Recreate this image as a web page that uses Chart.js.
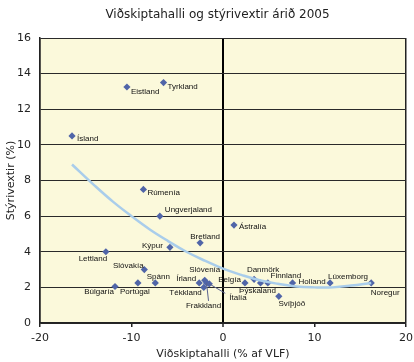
<!DOCTYPE html>
<html>
<head>
<meta charset="utf-8">
<script src="https://cdn.jsdelivr.net/npm/chart.js@4"></script>
<style>
  html, body { margin: 0; padding: 0; background: #fff; }
  #wrap { width: 414px; height: 362px; }
</style>
</head>
<body>
<div id="wrap"><canvas id="chart" width="414" height="362"></canvas></div>
<script>
// Values

const countries = ['Ísland', 'Eistland', 'Tyrkland', 'Rúmenía', 'Ungverjaland', 'Bretland', 'Kýpur', 'Lettland',
    'Slóvakía', 'Búlgaría', 'Portúgal', 'Spánn', 'Írland', 'Slóvenía', 'Tékkland', 'Frakkland', 'Ítalía',
    'Ástralía', 'Belgía', 'Danmörk', 'Þýskaland', 'Finnland', 'Holland', 'Svíþjóð', 'Lúxemborg', 'Noregur'];
const currentAccount = [-16.5, -10.5, -6.5, -8.7, -6.9, -2.5, -5.8, -12.8,
    -8.6, -11.8, -9.3, -7.4, -2.6, -2.0, -2.1, -1.8, -1.5,
    1.2, 2.4, 3.4, 4.1, 4.9, 7.6, 6.1, 11.7, 16.2];
const policyRate = [10.5, 13.25, 13.5, 7.5, 6.0, 4.5, 4.25, 4.0,
    3.0, 2.05, 2.25, 2.25, 2.25, 2.4, 2.0, 2.25, 2.2,
    5.5, 2.25, 2.45, 2.25, 2.25, 2.25, 1.5, 2.25, 2.25];

// trend curve, read at points along the line
const trendX = [-16.5, -14, -12, -10, -8, -6, -4, -2, 0, 2, 4, 6, 8, 10, 12, 14, 16.2];
const trendY = [8.9, 7.7, 6.8, 6.0, 5.25, 4.6, 4.0, 3.5, 3.05, 2.7, 2.4, 2.2, 2.05, 2.0, 2.0, 2.1, 2.25];

const xTicks = [-20, -10, 0, 10, 20];
const yTicks = [0, 2, 4, 6, 8, 10, 12, 14, 16];

const chartTitle = 'Viðskiptahalli og stýrivextir árið 2005';
const xTitle = 'Viðskiptahalli (% af VLF)';
const yTitle = 'Stýrivextir (%)';

// label placement: [align, dx, dy, leader]
const labelPos = {
    'Ísland': ['left', 5, 3], 'Eistland': ['left', 4, 5], 'Tyrkland': ['left', 4, 4.5],
    'Rúmenía': ['left', 4, 3], 'Ungverjaland': ['left', 5, -6], 'Bretland': ['center', 5, -6.5],
    'Kýpur': ['right', -7, -1.5], 'Lettland': ['center', -13, 7], 'Slóvakía': ['center', -16, -4],
    'Búlgaría': ['center', -16, 5.5], 'Portúgal': ['center', -3, 8.5], 'Spánn': ['center', 3, -6],
    'Írland': ['right', -3, -4], 'Slóvenía': ['center', 0, -10], 'Tékkland': ['right', -2, 5],
    'Frakkland': ['center', -3, 23, [2, 18]], 'Ítalía': ['left', 20, 13.5, [16, 9.5]],
    'Ástralía': ['left', 5, 2], 'Belgía': ['right', -4, -3], 'Danmörk': ['center', 9, -10],
    'Þýskaland': ['center', -3, 7.5], 'Finnland': ['center', 18, -7], 'Holland': ['left', 6, -1],
    'Svíþjóð': ['center', 13, 7.5], 'Lúxemborg': ['center', 18, -6], 'Noregur': ['center', 14, 10]
};

const points = countries.map((c, i) => ({ x: currentAccount[i], y: policyRate[i] }));
const trend = trendX.map((x, i) => ({ x: x, y: trendY[i] }));

const plotBackground = {
    id: 'plotBackground',
    beforeDraw(chart) {
        const a = chart.chartArea;
        const ctx = chart.ctx;
        ctx.save();
        ctx.fillStyle = '#FBF9DB';
        ctx.fillRect(a.left, a.top, a.right - a.left, a.bottom - a.top);
        ctx.restore();
    }
};

const textPlugin = {
    id: 'textPlugin',
    afterDatasetsDraw(chart) {
        const ctx = chart.ctx;
        const a = chart.chartArea;
        ctx.save();
        // point labels
        const meta = chart.getDatasetMeta(1);
        ctx.font = '8px "Liberation Sans", Arial, sans-serif';
        ctx.textBaseline = 'middle';
        meta.data.forEach((el, i) => {
            const p = labelPos[countries[i]];
            if (!p) return;
            if (p[3]) {
                ctx.strokeStyle = '#59628f';
                ctx.lineWidth = 1;
                ctx.beginPath();
                ctx.moveTo(el.x, el.y);
                ctx.lineTo(el.x + p[3][0], el.y + p[3][1]);
                ctx.stroke();
            }
            ctx.fillStyle = '#111';
            ctx.textAlign = p[0];
            ctx.fillText(countries[i], el.x + p[1], el.y + p[2]);
        });
        // titles
        ctx.fillStyle = '#222';
        ctx.textAlign = 'center';
        ctx.font = '12px "DejaVu Sans", Verdana, sans-serif';
        ctx.fillText(chartTitle, 217.5, 15);
        ctx.font = '11px "DejaVu Sans", Verdana, sans-serif';
        ctx.fillText(xTitle, (a.left + a.right) / 2, 354);
        ctx.translate(11, (a.top + a.bottom) / 2);
        ctx.rotate(-Math.PI / 2);
        ctx.fillText(yTitle, 0, 0);
        ctx.restore();
    }
};

const ctx = document.getElementById('chart').getContext('2d');
const chart = new Chart(ctx, {
    data: {
        datasets: [{
            type: 'line',
            data: trend,
            borderColor: '#A9CDEB',
            borderWidth: 2.5,
            pointRadius: 0,
            tension: 0.4,
            fill: false
        }, {
            type: 'scatter',
            data: points,
            pointStyle: 'rectRot',
            pointRadius: 3.6,
            backgroundColor: '#5065A8',
            borderColor: '#5065A8',
            borderWidth: 0
        }]
    },
    options: {
        responsive: false,
        animation: false,
        layout: { padding: { left: 0, top: 38, right: 8, bottom: 0 } },
        plugins: { legend: { display: false }, title: { display: false }, tooltip: { enabled: false } },
        scales: {
            x: {
                type: 'linear',
                min: -20, max: 20,
                afterFit: s => { s.height = 39; s.paddingRight = 0; },
                afterBuildTicks: s => { s.ticks = xTicks.map(v => ({ value: v })); },
                grid: {
                    color: c => (c.tick && c.tick.value === 0) ? '#000' : ((c.tick && Math.abs(c.tick.value) === 20) ? '#222' : 'rgba(0,0,0,0)'),
                    lineWidth: c => (c.tick && c.tick.value === 0) ? 2 : 1.5,
                    tickColor: '#222',
                    tickWidth: 1.5,
                    tickLength: 4,
                    drawTicks: true
                },
                border: { color: '#222', width: 1.5 },
                ticks: {
                    color: '#222',
                    font: { family: '"DejaVu Sans", Verdana, sans-serif', size: 11 },
                    padding: 5,
                    maxRotation: 0
                }
            },
            y: {
                type: 'linear',
                min: 0, max: 16,
                afterFit: s => { s.width = 40; },
                afterBuildTicks: s => { s.ticks = yTicks.map(v => ({ value: v })); },
                grid: { color: '#2a2a2a', lineWidth: 1, drawTicks: false },
                border: { color: '#222', width: 1.5 },
                ticks: {
                    color: '#222',
                    font: { family: '"DejaVu Sans", Verdana, sans-serif', size: 11 },
                    padding: 9
                }
            }
        }
    },
    plugins: [plotBackground, textPlugin]
});
</script>
</body>
</html>
